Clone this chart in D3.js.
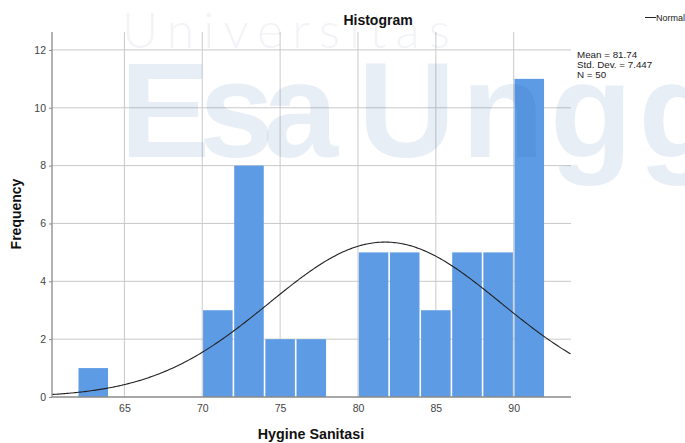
<!DOCTYPE html>
<html>
<head>
<meta charset="utf-8">
<script src="https://cdn.jsdelivr.net/npm/d3@7"></script>
<style>
  html, body { margin: 0; padding: 0; background: #fff; }
  svg { display: block; }
  text { font-family: "Liberation Sans", Arial, sans-serif; }
</style>
</head>
<body>
<svg id="chart" width="685" height="443"></svg>
<script>
// Histogram bins (lower edge, upper edge) and frequencies
const binStart = [62, 70, 72, 74, 76, 80, 82, 84, 86, 88, 90];
const binEnd   = [64, 72, 74, 76, 78, 82, 84, 86, 88, 90, 92];
const counts   = [1, 3, 8, 2, 2, 5, 5, 3, 5, 5, 11];

// Summary statistics shown in the legend
const mean = 81.74;
const stdDev = 7.447;
const nObs = 50;
const binWidth = 2;

const xTicks = [65, 70, 75, 80, 85, 90];
const yTicks = [0, 2, 4, 6, 8, 10, 12];

const svg = d3.select("#chart");

const x = d3.scaleLinear().domain([60.35, 93.68]).range([52, 571]);
const y = d3.scaleLinear().domain([0, 12.62]).range([397, 32]);

const gridColor = "#c9c9c9";
const axisColor = "#8a8a8a";

// Gridlines
svg.append("g").selectAll("line.v")
  .data(xTicks).join("line")
  .attr("x1", d => x(d)).attr("x2", d => x(d))
  .attr("y1", y.range()[1]).attr("y2", y(0))
  .attr("stroke", gridColor).attr("stroke-width", 1);

svg.append("g").selectAll("line.h")
  .data(yTicks.filter(d => d > 0)).join("line")
  .attr("x1", x.range()[0]).attr("x2", x.range()[1])
  .attr("y1", d => y(d)).attr("y2", d => y(d))
  .attr("stroke", gridColor).attr("stroke-width", 1);

// Bars
const bins = binStart.map((s, i) => ({ x0: s, x1: binEnd[i], n: counts[i] }));
svg.append("g").selectAll("rect")
  .data(bins).join("rect")
  .attr("x", d => x(d.x0) + 0.8)
  .attr("width", d => x(d.x1) - x(d.x0) - 1.6)
  .attr("y", d => y(d.n))
  .attr("height", d => y(0) - y(d.n))
  .attr("fill", "#5d9be5");

// Normal curve scaled to counts: N * binWidth * pdf
const pdf = v => Math.exp(-0.5 * ((v - mean) / stdDev) ** 2) / (stdDev * Math.sqrt(2 * Math.PI));
const curvePts = d3.range(x.domain()[0], x.domain()[1] + 0.001, 0.1)
  .map(v => [v, nObs * binWidth * pdf(v)]);
svg.append("path")
  .datum(curvePts)
  .attr("fill", "none")
  .attr("stroke", "#222")
  .attr("stroke-width", 1.1)
  .attr("d", d3.line().x(d => x(d[0])).y(d => y(d[1])).curve(d3.curveBasis));

// Axes
const xAxis = svg.append("g")
  .attr("transform", `translate(0,${y(0)})`)
  .call(d3.axisBottom(x).tickValues(xTicks).tickSize(0).tickPadding(8).tickFormat(d3.format("d")));
const yAxis = svg.append("g")
  .attr("transform", `translate(${x.range()[0]},0)`)
  .call(d3.axisLeft(y).tickValues(yTicks).tickSize(3).tickPadding(3).tickFormat(d3.format("d")));

[xAxis, yAxis].forEach(g => {
  g.select(".domain").attr("stroke", axisColor).attr("stroke-width", 1.3);
  g.selectAll(".tick line").attr("stroke", axisColor);
  g.selectAll(".tick text")
    .attr("fill", "#444")
    .style("font-family", '"Liberation Sans", Arial, sans-serif')
    .style("font-size", "10.5px");
});
xAxis.select(".domain").attr("d", `M${x.range()[0]},0H${x.range()[1]}`);
yAxis.select(".domain").attr("d", `M0,${y(0)}V${y.range()[1]}`);

// Titles
svg.append("text")
  .attr("x", 378).attr("y", 25)
  .attr("text-anchor", "middle")
  .attr("font-weight", "bold").attr("font-size", 14)
  .attr("fill", "#111")
  .text("Histogram");

svg.append("text")
  .attr("x", 311).attr("y", 439)
  .attr("text-anchor", "middle")
  .attr("font-weight", "bold").attr("font-size", 14.3)
  .attr("fill", "#111")
  .text("Hygine Sanitasi");

svg.append("text")
  .attr("transform", "translate(21,214) rotate(-90)")
  .attr("text-anchor", "middle")
  .attr("font-weight", "bold").attr("font-size", 14)
  .attr("fill", "#111")
  .text("Frequency");

// Legend
svg.append("line")
  .attr("x1", 645).attr("x2", 656)
  .attr("y1", 17.5).attr("y2", 17.5)
  .attr("stroke", "#222").attr("stroke-width", 1);
svg.append("text")
  .attr("x", 656).attr("y", 21)
  .attr("font-size", 9).attr("fill", "#222")
  .text("Normal");

const stats = [`Mean = ${mean}`, `Std. Dev. = ${stdDev}`, `N = ${nObs}`];
svg.append("g").selectAll("text")
  .data(stats).join("text")
  .attr("x", 577)
  .attr("y", (d, i) => 58 + i * 10)
  .attr("font-size", 9.8)
  .attr("fill", "#222")
  .text(d => d);

// Watermark
const wm = svg.append("g").attr("pointer-events", "none");
wm.append("text")
  .attr("x", 122).attr("y", 48)
  .attr("textLength", 328).attr("lengthAdjust", "spacing")
  .style("font-family", "Lato, 'Open Sans', sans-serif")
  .style("font-weight", 300)
  .attr("font-size", 50)
  .attr("fill", "rgb(60,90,130)").attr("fill-opacity", 0.07)
  .text("Universitas");
wm.append("text")
  .attr("x", 120).attr("y", 157)
  .attr("textLength", 218).attr("lengthAdjust", "spacing")
  .style("font-family", "'Liberation Sans Narrow', 'Liberation Sans', sans-serif")
  .style("font-stretch", "condensed")
  .style("font-weight", "bold")
  .attr("font-size", 135)
  .attr("fill", "rgb(25,85,155)").attr("fill-opacity", 0.1)
  .text("Esa");
wm.append("text")
  .attr("x", 358).attr("y", 157)
  .style("font-family", "'Liberation Sans Narrow', 'Liberation Sans', sans-serif")
  .style("font-stretch", "condensed")
  .style("font-weight", "bold")
  .attr("font-size", 135)
  .attr("letter-spacing", 6)
  .attr("fill", "rgb(25,85,155)").attr("fill-opacity", 0.1)
  .text("Ungg");
</script>
</body>
</html>
